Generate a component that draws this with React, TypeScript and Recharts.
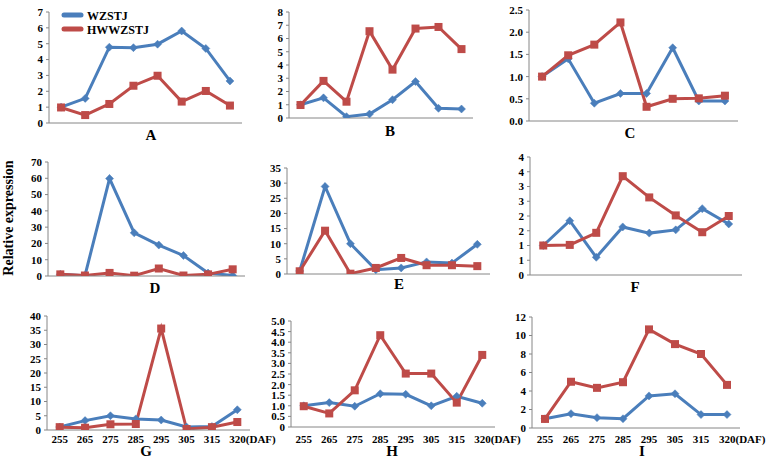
import React from 'react';
import { LineChart, Line, XAxis, YAxis } from 'recharts';

const categories = ['255', '265', '275', '285', '295', '305', '315', '320(DAF)'];

const aWZ = [1.0, 1.55, 4.78, 4.75, 4.97, 5.8, 4.7, 2.65];
const aHW = [0.98, 0.5, 1.2, 2.35, 2.98, 1.35, 2.02, 1.1];
const bWZ = [1.0, 1.52, 0.1, 0.3, 1.38, 2.75, 0.73, 0.68];
const bHW = [0.98, 2.8, 1.23, 6.55, 3.65, 6.75, 6.87, 5.2];
const cWZ = [1.0, 1.4, 0.4, 0.62, 0.62, 1.65, 0.45, 0.45];
const cHW = [1.0, 1.48, 1.72, 2.22, 0.32, 0.5, 0.51, 0.57];
const dWZ = [1.0, 0.2, 59.8, 26.5, 19.0, 12.6, 1.8, 0.3];
const dHW = [1.0, 0.3, 1.9, 0.2, 4.6, 0.3, 1.0, 4.1];
const eWZ = [1.0, 28.9, 10.0, 1.4, 2.0, 4.0, 3.6, 9.8];
const eHW = [0.9, 14.3, 0.1, 2.0, 5.3, 2.9, 2.9, 2.6];
const fWZ = [1.0, 1.84, 0.6, 1.63, 1.42, 1.53, 2.25, 1.73];
const fHW = [1.0, 1.02, 1.43, 3.35, 2.63, 2.02, 1.45, 2.0];
const gWZ = [1.05, 3.3, 5.0, 3.9, 3.5, 1.05, 1.2, 7.1];
const gHW = [1.0, 0.8, 2.0, 2.1, 35.6, 0.35, 1.0, 2.8];
const hWZ = [1.0, 1.15, 0.98, 1.57, 1.54, 1.0, 1.45, 1.12];
const hHW = [0.98, 0.64, 1.73, 4.33, 2.52, 2.52, 1.15, 3.4];
const iWZ = [1.0, 1.55, 1.12, 1.0, 3.47, 3.7, 1.45, 1.45];
const iHW = [0.98, 5.0, 4.34, 4.95, 10.66, 9.07, 8.0, 4.66];

const aTicks = [0, 1, 2, 3, 4, 5, 6, 7];
const bTicks = [0, 1, 2, 3, 4, 5, 6, 7, 8];
const cTicks = [0, 0.5, 1.0, 1.5, 2.0, 2.5];
const dTicks = [0, 10, 20, 30, 40, 50, 60, 70];
const eTicks = [0, 5, 10, 15, 20, 25, 30, 35];
const fTicks = [0, 0.5, 1, 1.5, 2, 2.5, 3, 3.5, 4];
const gTicks = [0, 5, 10, 15, 20, 25, 30, 35, 40];
const hTicks = [0, 0.5, 1.0, 1.5, 2.0, 2.5, 3.0, 3.5, 4.0, 4.5, 5.0];
const iTicks = [0, 2, 4, 6, 8, 10, 12];

const seriesNames = ['WZSTJ', 'HWWZSTJ'];

const BLUE = '#4A7EBB';
const RED = '#BE4B48';
const AXIS = '#868686';
const FONT = '"Liberation Serif", "Times New Roman", serif';

const intFmt = (v: number) => String(v);
const oneDec = (v: number) => v.toFixed(1);
const roundFmt = (v: number) => String(Math.round(v));
const hFmt = (v: number) => (v === 0 ? '0' : v.toFixed(1));

type PanelCfg = {
  id: string;
  wz: number[];
  hw: number[];
  ticks: number[];
  fmt: (v: number) => string;
  x0: number;
  x1: number;
  yTop: number;
  yBot: number;
  labels: boolean;
  lx: number;
  ly: number;
};

const panels: PanelCfg[] = [
  { id: 'A', wz: aWZ, hw: aHW, ticks: aTicks, fmt: intFmt, x0: 49, x1: 242, yTop: 12, yBot: 123, labels: false, lx: 151, ly: 135 },
  { id: 'B', wz: bWZ, hw: bHW, ticks: bTicks, fmt: intFmt, x0: 289, x1: 473, yTop: 12, yBot: 118, labels: false, lx: 390, ly: 131 },
  { id: 'C', wz: cWZ, hw: cHW, ticks: cTicks, fmt: oneDec, x0: 529, x1: 738, yTop: 10, yBot: 121, labels: false, lx: 630, ly: 133 },
  { id: 'D', wz: dWZ, hw: dHW, ticks: dTicks, fmt: intFmt, x0: 48, x1: 245, yTop: 162, yBot: 276, labels: false, lx: 155, ly: 288 },
  { id: 'E', wz: eWZ, hw: eHW, ticks: eTicks, fmt: intFmt, x0: 287, x1: 490, yTop: 168, yBot: 274, labels: false, lx: 399, ly: 284 },
  { id: 'F', wz: fWZ, hw: fHW, ticks: fTicks, fmt: roundFmt, x0: 530, x1: 742, yTop: 157, yBot: 275, labels: false, lx: 635, ly: 287 },
  { id: 'G', wz: gWZ, hw: gHW, ticks: gTicks, fmt: intFmt, x0: 47, x1: 250, yTop: 316, yBot: 430, labels: true, lx: 146, ly: 451 },
  { id: 'H', wz: hWZ, hw: hHW, ticks: hTicks, fmt: hFmt, x0: 291, x1: 495, yTop: 321, yBot: 427, labels: true, lx: 392, ly: 451 },
  { id: 'I', wz: iWZ, hw: iHW, ticks: iTicks, fmt: intFmt, x0: 532, x1: 740, yTop: 317, yBot: 428, labels: true, lx: 642, ly: 451 },
];

const YW = 40;
const MT = 6;
const AXH = 5;
const LABH = 14;
const boundaryTicks = [0, 1, 2, 3, 4, 5, 6, 7, 8];
const centerTicks = categories.map((_, i) => i + 0.5);

const BlueDot = (props: any) => {
  const { cx, cy, index } = props;
  if (cx == null || cy == null) return <g key={`b-${index}`} />;
  const s = 4;
  return (
    <path
      key={`b-${index}`}
      d={`M${cx},${cy - s} L${cx + s},${cy} L${cx},${cy + s} L${cx - s},${cy} Z`}
      fill={BLUE}
      stroke={BLUE}
      strokeWidth={0.5}
    />
  );
};

const RedDot = (props: any) => {
  const { cx, cy, index } = props;
  if (cx == null || cy == null) return <g key={`r-${index}`} />;
  const s = 4;
  return <rect key={`r-${index}`} x={cx - s} y={cy - s} width={2 * s} height={2 * s} fill={RED} />;
};

const CatTick = (props: any) => {
  const { x, y, payload, index } = props;
  const label = categories[Math.floor(payload.value)];
  const isLast = index === categories.length - 1;
  return (
    <text
      x={isLast ? x - 8 : x}
      y={y}
      dy="0.71em"
      textAnchor={isLast ? 'start' : 'middle'}
      fill="#000"
      fontSize={11}
      fontWeight="bold"
      fontFamily={FONT}
    >
      {label}
    </text>
  );
};

function Panel({ p }: { p: PanelCfg }) {
  const MR = p.labels ? 40 : 6;
  const width = p.x1 - p.x0 + YW + MR;
  const height = p.yBot - p.yTop + MT + AXH + (p.labels ? LABH : 0);
  const data = categories.map((c, i) => ({ pos: i + 0.5, cat: c, wz: p.wz[i], hw: p.hw[i] }));
  const max = p.ticks[p.ticks.length - 1];
  const labelMargin = Math.max(0, 435 - (p.yBot + AXH));
  return (
    <div style={{ position: 'absolute', left: p.x0 - YW, top: p.yTop - MT, width, height }}>
      <LineChart width={width} height={height} data={data} margin={{ top: MT, right: MR, left: 0, bottom: 0 }}>
        <XAxis
          xAxisId="b"
          type="number"
          dataKey="pos"
          domain={[0, 8]}
          ticks={boundaryTicks}
          interval={0}
          tick={false}
          tickSize={4}
          height={AXH}
          axisLine={{ stroke: AXIS, strokeWidth: 1 }}
          tickLine={{ stroke: AXIS, strokeWidth: 1 }}
        />
        {p.labels && (
          <XAxis
            xAxisId="l"
            type="number"
            dataKey="pos"
            domain={[0, 8]}
            ticks={centerTicks}
            interval={0}
            axisLine={false}
            tickLine={false}
            tickSize={0}
            tickMargin={labelMargin}
            height={LABH}
            tick={CatTick}
          />
        )}
        <YAxis
          type="number"
          domain={[0, max]}
          ticks={p.ticks}
          interval={0}
          width={YW}
          tickFormatter={p.fmt}
          tickSize={3}
          tickMargin={3}
          axisLine={{ stroke: AXIS, strokeWidth: 1 }}
          tickLine={{ stroke: AXIS, strokeWidth: 1 }}
          tick={{ fill: '#000', fontSize: 11, fontWeight: 'bold', fontFamily: FONT }}
          allowDataOverflow
        />
        <Line
          xAxisId="b"
          type="linear"
          dataKey="wz"
          name={seriesNames[0]}
          stroke={BLUE}
          strokeWidth={3}
          dot={BlueDot}
          activeDot={false}
          isAnimationActive={false}
        />
        <Line
          xAxisId="b"
          type="linear"
          dataKey="hw"
          name={seriesNames[1]}
          stroke={RED}
          strokeWidth={3}
          dot={RedDot}
          activeDot={false}
          isAnimationActive={false}
        />
      </LineChart>
    </div>
  );
}

export default function App() {
  return (
    <div
      style={{
        position: 'absolute',
        left: 0,
        top: 0,
        width: 775,
        height: 458,
        background: '#fff',
        fontFamily: FONT,
        overflow: 'hidden',
      }}
    >
      {panels.map((p) => (
        <Panel key={p.id} p={p} />
      ))}
      {panels.map((p) => (
        <div
          key={`lab-${p.id}`}
          style={{
            position: 'absolute',
            left: p.lx - 20,
            top: p.ly - 6,
            width: 40,
            height: 12,
            lineHeight: '12px',
            textAlign: 'center',
            fontSize: 15,
            fontWeight: 'bold',
            color: '#000',
          }}
        >
          {p.id}
        </div>
      ))}
      <div
        style={{
          position: 'absolute',
          left: 9 - 80,
          top: 218 - 10,
          width: 160,
          height: 20,
          lineHeight: '20px',
          textAlign: 'center',
          fontSize: 14,
          fontWeight: 'bold',
          color: '#000',
          transform: 'rotate(-90deg)',
          whiteSpace: 'nowrap',
        }}
      >
        Relative expression
      </div>
      <svg style={{ position: 'absolute', left: 55, top: 5 }} width={100} height={34}>
        <line x1={9} y1={10} x2={26} y2={10} stroke={BLUE} strokeWidth={5} strokeLinecap="round" />
        <line x1={9} y1={24} x2={26} y2={24} stroke={RED} strokeWidth={5} strokeLinecap="round" />
        <text x={32} y={14.5} fontSize={12} fontWeight="bold" fontFamily={FONT} fill="#000">
          {seriesNames[0]}
        </text>
        <text x={32} y={28.5} fontSize={12} fontWeight="bold" fontFamily={FONT} fill="#000">
          {seriesNames[1]}
        </text>
      </svg>
    </div>
  );
}
